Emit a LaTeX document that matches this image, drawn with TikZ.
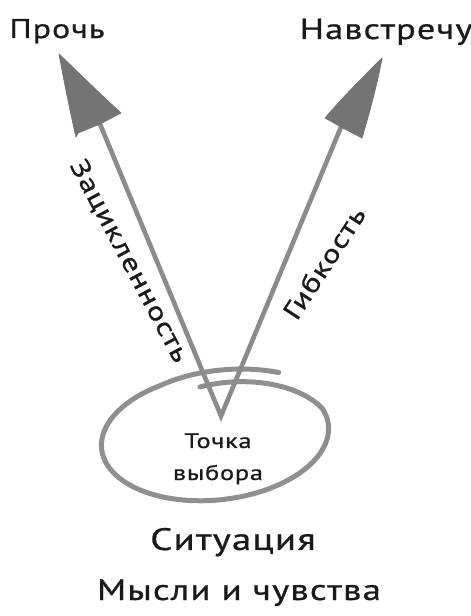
\documentclass[tikz,border=0pt]{standalone}
\usepackage{fontspec}
\newfontfamily\hand[FakeStretch=1.25,LetterSpace=4,FakeBold=0.8]{PT Sans}
\begin{document}
\begin{tikzpicture}[x=1pt,y=1pt,
  shaft/.style={draw=shaftgray,line width=4.6pt,line join=miter},
  headfill/.style={fill=headgray,draw=headgray,line width=0.8pt,line join=round},
  ring/.style={draw=ringgray,line width=5pt,line cap=round},
  label/.style={font=\hand\fontsize{#1}{#1}\selectfont,text=ink,inner sep=0pt},
  declare function={
    rs(\u)=1-0.18*max(0,1-\u/80)+0.1*max(0,(\u-340)/60);
    ex(\u)=rs(\u)*114*cos(96-\u);
    ey(\u)=rs(\u)*63*sin(96-\u);
  }]
\definecolor{shaftgray}{HTML}{8B8B8B}
\definecolor{headgray}{HTML}{747474}
\definecolor{ringgray}{HTML}{8F8F8F}
\definecolor{ink}{HTML}{1A1A1A}
\useasboundingbox (0,0) rectangle (471,616);

% point where the two paths start
\coordinate (V) at (221,200);
% shaft ends under the arrowheads
\coordinate (Lend) at (100,492);
\coordinate (Rend) at (341,489);

% hand-drawn loop around the choice point
\draw[ring] plot[domain=0:400,samples=140,smooth]
  ({215+ex(\x)*cos(6)-ey(\x)*sin(6)},{179+ex(\x)*sin(6)+ey(\x)*cos(6)});

% the two paths
\draw[shaft] (Lend) -- (V) -- (Rend);

% arrowheads
\path[headfill] (59,562) .. controls (80,542) and (100,522) .. (121,503)
  -- (100,492) -- (78,483) -- (76,479)
  .. controls (70,505) and (64,535) .. cycle;
\path[headfill] (382,558) .. controls (362,538) and (342,518) .. (325,498)
  -- (341,489) -- (362,478)
  .. controls (370,505) and (378,535) .. cycle;

% labels
\node[label=27,anchor=base] (away) at (57,578) {Прочь};
\node[label=29,anchor=base] (towards) at (386,577) {Навстречу};
\node[label=26,rotate=-62] (stuck) at (129,355) {Зацикленность};
\node[label=26,rotate=57] (flex) at (324,353) {Гибкость};
\node[label=21,anchor=base] (choice) at (218,168) {Точка};
\node[label=21,anchor=base] (choice2) at (218,136) {выбора};
\node[label=31,anchor=base] (situation) at (233,66) {Ситуация};
\node[label=29.5,anchor=base] (thoughts) at (239,16) {Мысли и чувства};
\end{tikzpicture}
\end{document}
